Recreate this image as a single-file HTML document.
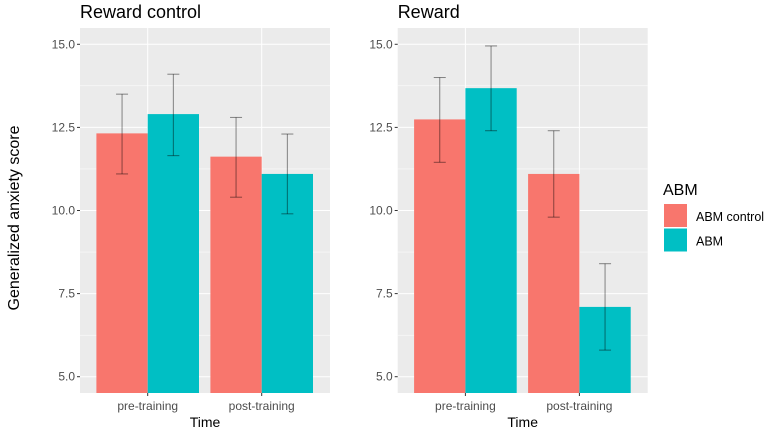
<!DOCTYPE html>
<html><head><meta charset="utf-8"><style>
body{margin:0;background:#fff;font-family:"Liberation Sans",sans-serif}
</style></head><body>
<svg id="chart" width="767" height="431" xmlns="http://www.w3.org/2000/svg"></svg>
<script>
const panels = ["Reward control","Reward"];
const categories = ["pre-training","post-training"];
const groups = ["ABM control","ABM"];
const means = [[[12.32,12.9],[11.62,11.1]],[[12.74,13.68],[11.1,7.1]]];
const errLow = [[[11.1,11.65],[10.4,9.9]],[[11.45,12.4],[9.8,5.8]]];
const errHigh = [[[13.5,14.1],[12.8,12.3]],[[14.0,14.95],[12.4,8.4]]];
const yTicks = [5,7.5,10,12.5,15];
const yTickLabels = ["5.0","7.5","10.0","12.5","15.0"];
const colors = ["#F8766D","#00BFC4"];

const svg = document.getElementById('chart');
const NS = "http://www.w3.org/2000/svg";
function el(tag, attrs, parent){const e=document.createElementNS(NS,tag);for(const k in attrs)e.setAttribute(k,attrs[k]);(parent||svg).appendChild(e);return e;}
const plotTop=28,plotBot=393,yMin=4.51,yMax=15.49;
function y(v){return plotBot-(v-yMin)/(yMax-yMin)*(plotBot-plotTop);}
const panelX=[80,397.7],panelW=250;

panels.forEach((title,p)=>{
  const x0=panelX[p];
  const g=el('g',{});
  
  
  const bg=el('rect',{x:x0,y:plotTop,width:panelW,height:plotBot-plotTop,fill:'#EBEBEB'},g);
  
  
  for(let i=0;i<yTicks.length-1;i++){
    const my=y((yTicks[i]+yTicks[i+1])/2);
    el('line',{x1:x0,x2:x0+panelW,y1:my,y2:my,stroke:'#fff','stroke-width':0.5},g);
  }
  const centers=categories.map((c,i)=>x0+panelW*(i===0?0.2708:0.7268));
  yTicks.forEach((t,i)=>{
    el('line',{x1:x0,x2:x0+panelW,y1:y(t),y2:y(t),stroke:'#fff','stroke-width':1},g);
    el('line',{x1:x0-3,x2:x0,y1:y(t),y2:y(t),stroke:'#333','stroke-width':1},g);
    const tl=el('text',{x:x0-5,y:y(t)+4,'text-anchor':'end','font-size':12,fill:'#4D4D4D'},g);
    tl.textContent=yTickLabels[i];
    
    
  });
  const bw=51.3;
  categories.forEach((c,i)=>{
    const cx=centers[i];
    el('line',{x1:cx,x2:cx,y1:plotTop,y2:plotBot,stroke:'#fff','stroke-width':1},g);
    el('line',{x1:cx,x2:cx,y1:plotBot,y2:plotBot+3,stroke:'#333','stroke-width':1},g);
    const xl=el('text',{x:cx,y:410,'text-anchor':'middle','font-size':12,fill:'#4D4D4D'},g);
    xl.textContent=c;
    
    
    groups.forEach((gr,j)=>{
      const bx=cx-bw+j*bw;
      const r=el('rect',{x:bx,y:y(means[p][i][j]),width:bw,height:plotBot-y(means[p][i][j]),fill:colors[j]},g);
      
      
      const ex=bx+bw/2;
      const eg=el('g',{stroke:'rgba(0,0,0,0.45)','stroke-width':1},g);
      
      
      el('line',{x1:ex,x2:ex,y1:y(errLow[p][i][j]),y2:y(errHigh[p][i][j])},eg);
      el('line',{x1:ex-6,x2:ex+6,y1:y(errLow[p][i][j]),y2:y(errLow[p][i][j])},eg);
      el('line',{x1:ex-6,x2:ex+6,y1:y(errHigh[p][i][j]),y2:y(errHigh[p][i][j])},eg);
    });
  });
  const t=el('text',{x:x0,y:18,'font-size':18,fill:'#000'},g);
  t.textContent=title;
  
  
  const xt=el('text',{x:x0+panelW/2,y:427,'text-anchor':'middle','font-size':14,fill:'#000'},g);
  xt.textContent='Time';
  
  
});
const yt=el('text',{x:0,y:0,transform:'translate(19,218) rotate(-90)','text-anchor':'middle','font-size':16,fill:'#000'});
yt.textContent='Generalized anxiety score';


const lg=el('g',{});


const lt=el('text',{x:663,y:195,'font-size':16,fill:'#000'},lg);
lt.textContent='ABM';
groups.forEach((gr,j)=>{
  const k=el('rect',{x:664,y:204+j*24.5,width:23,height:23,fill:colors[j]},lg);
  
  
  const tx=el('text',{x:696,y:221+j*24.5,'font-size':12.5,fill:'#000'},lg);
  tx.textContent=gr;
  
  
});
</script>
</body></html>
